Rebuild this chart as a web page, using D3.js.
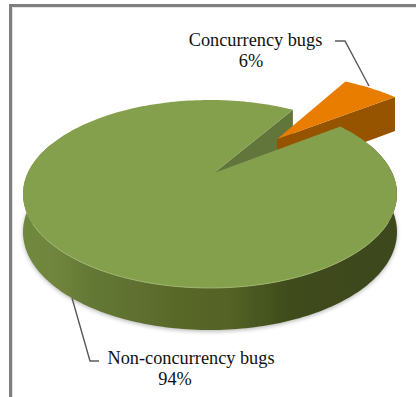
<!DOCTYPE html>
<html><head><meta charset="utf-8">
<script src="https://cdn.jsdelivr.net/npm/d3@7"></script>
<style>html,body{margin:0;padding:0;background:#fff;overflow:hidden}svg{display:block}text{font-family:"Liberation Serif",serif;fill:#111;font-size:18.3px;text-anchor:middle}</style>
</head><body><svg id="c" width="416" height="397"></svg>
<script>
const categories=["Concurrency bugs","Non-concurrency bugs"];
const values=[6,94];
const percentLabels=["6%","94%"];
const sliceColors=["#e87d00","#85a04d"];
const sideColors=["#965200","#62763a"];
const wallStops=[[0,"#6f893c"],[0.1,"#6f833c"],[0.16,"#657a36"],[0.3,"#5f7030"],[0.42,"#586728"],[0.55,"#566326"],[0.62,"#4a5821"],[0.72,"#3f4b1c"],[1,"#3e481c"]];

const W=416,H=397;
const svg=d3.select("#c");
const defs=svg.append("defs");
// perspective: the unit disc is boosted so its centre lands on the apex, then scaled to the ellipse
const E={cx:210,cy:194,rx:187,ry:94};
const apex=[214,173];
const p=[(apex[0]-E.cx)/E.rx,(apex[1]-E.cy)/E.ry];
const p2=p[0]*p[0]+p[1]*p[1], gam=1/Math.sqrt(1-p2);
const depth=Y=>38+4*Y;
function proj(u,v,low){
  const dot=p[0]*u+p[1]*v, s=dot/p2, par=[p[0]*s,p[1]*s], perp=[u-par[0],v-par[1]];
  const w=1+dot;
  const X=(p[0]+par[0]+perp[0]/gam)/w, Y=(p[1]+par[1]+perp[1]/gam)/w;
  return [E.cx+E.rx*X, E.cy+E.ry*Y+(low?depth(Y):0)];
}
const uv=a=>[Math.sin(a),-Math.cos(a)];
const line=d3.line();
const rad=d3.scaleLinear().domain([0,360]).range([0,2*Math.PI]);
const pie=d3.pie().sort(null).startAngle(rad(31.5)).endAngle(rad(391.5));
const arcs=pie(values);
const [conc,non]=arcs;
const explode=0.57, sliceScale=1.1;
const mid=(conc.startAngle+conc.endAngle)/2;
const off=[Math.sin(mid)*explode,-Math.cos(mid)*explode];
const pt=(a,o,low,r=1)=>{const [u,v]=uv(a);return proj(u*r+o[0],v*r+o[1],low)};
const centre=(o,low)=>proj(o[0],o[1],low);
const steps=(a,b,n=160)=>d3.range(n+1).map(i=>a+(b-a)*i/n);
const none=[0,0];

defs.append("filter").attr("id","soft").attr("x","-10%").attr("y","-10%").attr("width","120%").attr("height","120%")
  .append("feGaussianBlur").attr("stdDeviation",0.55);
defs.append("filter").attr("id","shadow").attr("x","-10%").attr("y","-10%").attr("width","120%").attr("height","120%")
  .append("feGaussianBlur").attr("stdDeviation",2);
const grad=defs.append("linearGradient").attr("id","wall").attr("gradientUnits","userSpaceOnUse")
  .attr("x1",25).attr("x2",395).attr("y1",0).attr("y2",0);
grad.selectAll("stop").data(wallStops).join("stop").attr("offset",d=>d[0]).attr("stop-color",d=>d[1]);

// frame
svg.append("path").attr("d",line([[10.5,397],[10.5,5.5],[416,5.5]])).attr("fill","none").attr("stroke","#7f7f7f").attr("stroke-width",3);
svg.append("path").attr("d",line([[12.5,397],[12.5,7.5],[416,7.5]])).attr("fill","none").attr("stroke","#e4e4e4").attr("stroke-width",1);

const g=svg.append("g").attr("filter","url(#soft)");

const wallAngles=steps(rad(70),rad(290),200);
const topAngles=steps(non.startAngle,non.endAngle,240);
// soft shadow under the wall
g.append("path").attr("d",line(wallAngles.map(a=>pt(a,none,true)).map(q=>[q[0],q[1]+1.5]))+"Z")
  .attr("fill","#000").attr("opacity",0.28).attr("filter","url(#shadow)");

// cut face of the large slice seen through the gap
g.append("path").attr("d",line([centre(none,false),pt(non.endAngle,none,false),pt(non.endAngle,none,true),centre(none,true)])+"Z")
  .attr("fill",sideColors[1]);

// exploded slice: cut face then top
g.append("path").attr("d",line([centre(off,false),pt(conc.endAngle,off,false,sliceScale),pt(conc.endAngle,off,true,sliceScale),centre(off,true)])+"Z")
  .attr("fill",sideColors[0]);
g.append("path").attr("d",line([centre(off,false),...steps(conc.startAngle,conc.endAngle,30).map(a=>pt(a,off,false,sliceScale))])+"Z")
  .attr("fill",sliceColors[0]);

// large slice: outer wall then top
g.append("path").attr("d",line([...wallAngles.map(a=>pt(a,none,false)),...wallAngles.slice().reverse().map(a=>pt(a,none,true))])+"Z")
  .attr("fill","url(#wall)");
g.append("path").attr("d",line([centre(none,false),...topAngles.map(a=>pt(a,none,false))])+"Z")
  .attr("fill",sliceColors[1]);
// pale rim where top meets the wall
g.append("path").attr("d",line(steps(rad(120),rad(240),60).map(a=>pt(a,none,false))))
  .attr("fill","none").attr("stroke","#a6bb72").attr("stroke-width",0.8);

// leaders
const lead=svg.append("g").attr("fill","none").attr("stroke","#595959").attr("stroke-width",1.4).attr("filter","url(#soft)");
lead.append("path").attr("d",line([[335,41],[345,41],[369,86]]));
lead.append("path").attr("d",line([[72,298],[90,361],[99,361]]));

// labels
const labelAt=[[255.5,46,67],[191,364,385]];
const pctX=[251,175];
categories.forEach((c,i)=>{
  svg.append("text").attr("x",labelAt[i][0]).attr("y",labelAt[i][1]).text(c);
  svg.append("text").attr("x",pctX[i]).attr("y",labelAt[i][2]).text(percentLabels[i]);
});
</script></body></html>
